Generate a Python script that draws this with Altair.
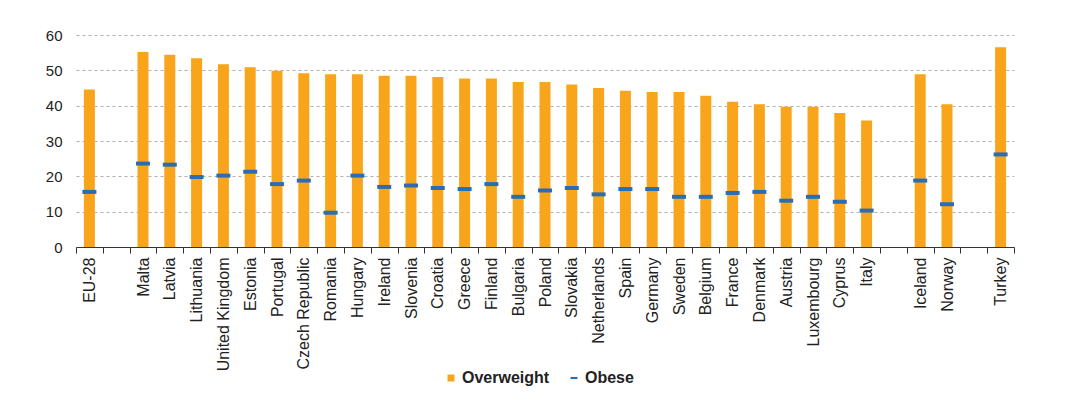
import altair as alt
import pandas as pd

categories = ["EU-28", "gap1", "Malta", "Latvia", "Lithuania", "United Kingdom", "Estonia",
              "Portugal", "Czech Republic", "Romania", "Hungary", "Ireland", "Slovenia",
              "Croatia", "Greece", "Finland", "Bulgaria", "Poland", "Slovakia", "Netherlands",
              "Spain", "Germany", "Sweden", "Belgium", "France", "Denmark", "Austria",
              "Luxembourg", "Cyprus", "Italy", "gap2", "Iceland", "Norway", "gap3", "Turkey"]

countries = ["EU-28", "Malta", "Latvia", "Lithuania", "United Kingdom", "Estonia",
             "Portugal", "Czech Republic", "Romania", "Hungary", "Ireland", "Slovenia",
             "Croatia", "Greece", "Finland", "Bulgaria", "Poland", "Slovakia", "Netherlands",
             "Spain", "Germany", "Sweden", "Belgium", "France", "Denmark", "Austria",
             "Luxembourg", "Cyprus", "Italy", "Iceland", "Norway", "Turkey"]

overweight = [44.6, 55.2, 54.4, 53.4, 51.7, 50.9, 49.9, 49.2, 48.9, 48.9, 48.5, 48.5,
              48.1, 47.7, 47.7, 46.7, 46.7, 46.0, 45.0, 44.2, 43.9, 43.9, 42.8, 41.1,
              40.4, 39.7, 39.7, 37.9, 35.8, 48.9, 40.4, 56.5]

obese = [15.6, 23.6, 23.3, 19.8, 20.2, 21.3, 17.8, 18.8, 9.7, 20.2, 17.0, 17.4,
         16.7, 16.4, 17.8, 14.2, 16.0, 16.7, 14.9, 16.4, 16.4, 14.2, 14.2, 15.3,
         15.6, 13.1, 14.2, 12.8, 10.3, 18.8, 12.1, 26.2]

orange = "#F9A51B"
blue = "#2B6CB3"

df = pd.DataFrame({
    "country": countries * 2,
    "series": ["Overweight"] * len(countries) + ["Obese"] * len(countries),
    "value": overweight + obese,
})

FONT = "Liberation Sans"

x_enc = alt.X(
    "country:N",
    scale=alt.Scale(domain=categories, paddingInner=0, paddingOuter=0),
    sort=categories,
    axis=alt.Axis(
        title=None,
        labelAngle=-90,
        labelAlign="right",
        labelBaseline="middle",
        labelFontSize=16,
        labelFont=FONT,
        labelColor="#222222",
        labelPadding=4,
        labelExpr="indexof(datum.label, 'gap') == 0 ? '' : datum.label",
        tickBand="extent",
        ticks=True,
        tickSize=6,
        tickColor="#333333",
        domainColor="#333333",
        grid=False,
        labelOverlap=False,
    ),
)

y_enc = alt.Y(
    "value:Q",
    scale=alt.Scale(domain=[0, 60], nice=False),
    axis=alt.Axis(
        title=None,
        values=[0, 10, 20, 30, 40, 50, 60],
        labelFontSize=15,
        labelFont=FONT,
        labelColor="#222222",
        labelPadding=14,
        ticks=False,
        domain=False,
        grid=True,
        gridColor="#B0B0B0",
        gridDash=[3, 3],
        gridWidth=1,
    ),
)

legend_common = dict(
    title=None,
    orient="none",
    direction="horizontal",
    labelFontSize=16,
    labelFont=FONT,
    labelFontWeight="bold",
    labelColor="#222222",
    symbolSize=49,
    symbolStrokeWidth=0,
    labelOffset=3,
)

base = alt.Chart(df)

bars = base.transform_filter(alt.datum.series == "Overweight").mark_bar(size=11).encode(
    x=x_enc,
    y=y_enc,
    color=alt.Color(
        "series:N",
        scale=alt.Scale(domain=["Overweight"], range=[orange]),
        legend=alt.Legend(legendX=367, legendY=335, symbolType="square", **legend_common),
    ),
)

ticks = base.transform_filter(alt.datum.series == "Obese").mark_tick(
    size=14, thickness=4, opacity=1
).encode(
    x=x_enc,
    y=y_enc,
    fill=alt.Fill(
        "series:N",
        scale=alt.Scale(domain=["Obese"], range=[blue]),
        legend=alt.Legend(legendX=490, legendY=335, symbolType="M-1,-0.3H1V0.3H-1Z",
                          **legend_common),
    ),
)

chart = (
    alt.layer(bars, ticks)
    .properties(
        width=938,
        height=212,
        padding={"left": 37, "top": 20, "right": 5, "bottom": 5},
        background="white",
    )
    .configure_view(stroke=None)
)

chart.save("out.html", embed_options={"renderer": "svg", "actions": False})
